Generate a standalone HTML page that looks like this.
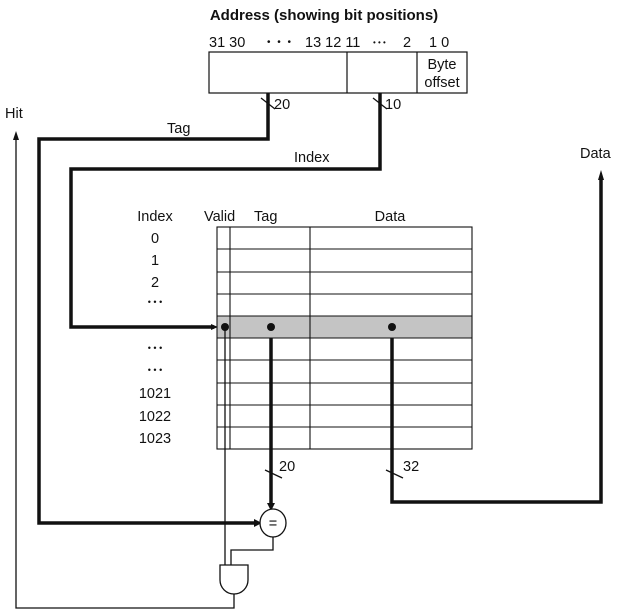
<!DOCTYPE html>
<html><head><style>body{margin:0;background:#fff}svg{display:block}text{font-family:"Liberation Sans",sans-serif;font-size:14.5px;fill:#111}</style></head><body>
<svg width="623" height="613" viewBox="0 0 623 613">
<text x="324" y="20" text-anchor="middle" font-weight="bold" style="font-size:15px">Address (showing bit positions)</text>
<text x="209" y="47">31 30</text><text x="267" y="45" style="font-size:10px;letter-spacing:2px">• • •</text><text x="305" y="47">13 12 11</text><text x="373" y="45" style="font-size:8px">• • •</text><text x="403" y="47">2</text><text x="429" y="47">1 0</text>
<rect x="209" y="52" width="258" height="41" fill="none" stroke="#111" stroke-width="1.2"/>
<line x1="347" y1="52" x2="347" y2="93" stroke="#111" stroke-width="1.2"/><line x1="417" y1="52" x2="417" y2="93" stroke="#111" stroke-width="1.2"/>
<text x="442" y="69" text-anchor="middle">Byte</text><text x="442" y="87" text-anchor="middle">offset</text>
<g fill="none" stroke="#111" stroke-width="3.5">
<polyline points="268,93 268,139 39,139 39,523 258,523" />
<polyline points="380,93 380,169 71,169 71,327 214,327"/>
<polyline points="392,327 392,502 601,502 601,178"/>
<line x1="271" y1="327" x2="271" y2="505"/>
</g>
<path d="M254,519 L262,523 L254,527Z" fill="#111"/><path d="M211,324 L218,327 L211,330Z" fill="#111"/>
<path d="M267,503 L271,511 L275,503Z" fill="#111"/><path d="M598,180 L601,170 L604,180Z" fill="#111"/>
<g stroke="#111" stroke-width="1.3"><line x1="261" y1="98" x2="275" y2="109"/><line x1="373" y1="98" x2="387" y2="109"/><line x1="265" y1="470" x2="282" y2="478"/><line x1="386" y1="470" x2="403" y2="478"/></g>
<text x="274" y="109">20</text><text x="385" y="109">10</text><text x="279" y="471">20</text><text x="403" y="471">32</text>
<text x="167" y="133">Tag</text><text x="294" y="162">Index</text><text x="5" y="118">Hit</text><text x="580" y="158">Data</text>
<text x="155" y="221" text-anchor="middle">Index</text><text x="204" y="221">Valid</text><text x="254" y="221">Tag</text><text x="390" y="221" text-anchor="middle">Data</text>
<g text-anchor="middle"><text x="155" y="243">0</text><text x="155" y="265">1</text><text x="155" y="287">2</text><text x="155" y="305" style="font-size:9px">• • •</text><text x="155" y="351" style="font-size:9px">• • •</text><text x="155" y="373" style="font-size:9px">• • •</text><text x="155" y="398">1021</text><text x="155" y="421">1022</text><text x="155" y="443">1023</text></g>
<rect x="217" y="316" width="255" height="22" fill="#c4c4c4"/>
<g stroke="#111" stroke-width="1.1" fill="none">
<rect x="217" y="227" width="255" height="222"/>
<line x1="230" y1="227" x2="230" y2="449"/><line x1="310" y1="227" x2="310" y2="449"/>
<line x1="217" y1="249" x2="472" y2="249"/><line x1="217" y1="272" x2="472" y2="272"/><line x1="217" y1="294" x2="472" y2="294"/><line x1="217" y1="316" x2="472" y2="316"/><line x1="217" y1="338" x2="472" y2="338"/><line x1="217" y1="360" x2="472" y2="360"/><line x1="217" y1="383" x2="472" y2="383"/><line x1="217" y1="405" x2="472" y2="405"/><line x1="217" y1="427" x2="472" y2="427"/>
</g>
<circle cx="225" cy="327" r="4" fill="#111"/><circle cx="271" cy="327" r="4" fill="#111"/><circle cx="392" cy="327" r="4" fill="#111"/>
<g stroke="#111" stroke-width="1.3" fill="none">
<line x1="225" y1="327" x2="225" y2="565"/>
<polyline points="273,536 273,550 231,550 231,565"/>
<ellipse cx="273" cy="523" rx="13" ry="14" fill="#fff"/>
<path d="M220,565 L248,565 L248,580 A14,14 0 0 1 220,580 Z" fill="#fff"/>
<polyline points="234,594 234,608 16,608 16,138"/>
</g>
<path d="M13,140 L16,131 L19,140Z" fill="#111"/>
<text x="273" y="528" text-anchor="middle">=</text>
</svg></body></html>
